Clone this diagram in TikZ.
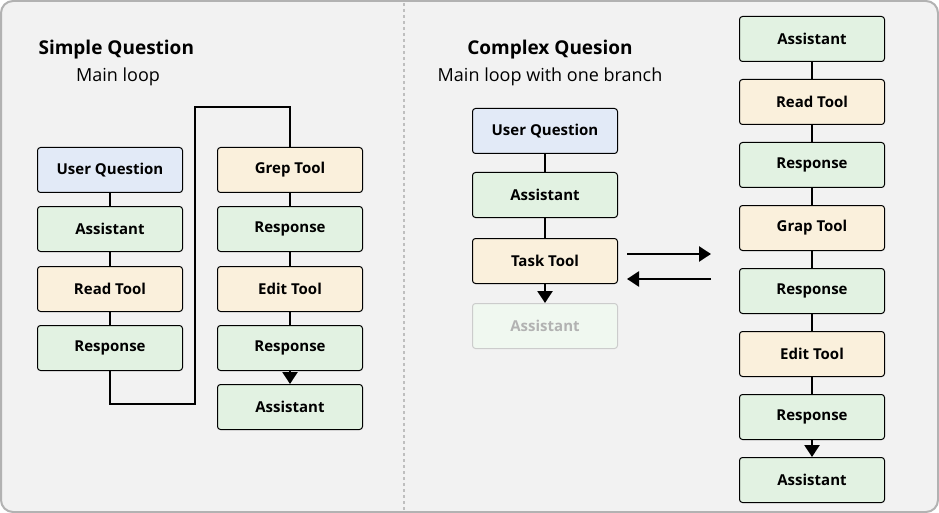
\documentclass[tikz,border=0pt]{standalone}
\usepackage{fontspec}
\setmainfont{Open Sans}
\usetikzlibrary{arrows.meta}
\definecolor{bg}{HTML}{F2F2F2}
\definecolor{bl}{HTML}{E2EAF7}
\definecolor{gr}{HTML}{E2F2E2}
\definecolor{og}{HTML}{FAF0DC}
\begin{document}
\begin{tikzpicture}[x=1pt,y=-1pt,
 box/.style={draw=black,line width=1pt,rounded corners=3pt,minimum width=145pt,minimum height=45pt,anchor=north west,font=\fontsize{15}{17}\selectfont\bfseries,inner sep=0pt},
 U/.style={box,fill=bl}, G/.style={box,fill=gr}, O/.style={box,fill=og},
 ln/.style={line width=2pt},
 ar/.style={line width=2.4pt,-{Triangle[length=12pt,width=15pt]}}]
\useasboundingbox (0,0) rectangle (939,513);
\draw[fill=bg,draw=black!30,line width=2pt,rounded corners=12pt] (1,1) rectangle (938,512);
\draw[dashed,black!25,line width=1.2pt] (404,3) -- (404,510);
\node[anchor=west,font=\fontsize{19}{22}\selectfont\bfseries] (t1) at (35,50) {Simple Question};
\node[font=\fontsize{18}{21}\selectfont] (s1) at (118,77) {Main loop};
\node[font=\fontsize{19}{22}\selectfont\bfseries] (t2) at (550,50) {Complex Quesion};
\node[font=\fontsize{18}{21}\selectfont] (s2) at (550,77) {Main loop with one branch};
% left
\node[U] (a1) at (37,147) {User Question};
\node[G] (a2) at (37,206) {Assistant};
\node[O] (a3) at (37,266) {Read Tool};
\node[G] (a4) at (37,325) {Response};
\node[O] (b1) at (217,147) {Grep Tool};
\node[G] (b2) at (217,206) {Response};
\node[O] (b3) at (217,266) {Edit Tool};
\node[G] (b4) at (217,325) {Response};
\node[G] (b5) at (217,384) {Assistant};
\foreach \p/\q in {a1/a2,a2/a3,a3/a4,b1/b2,b2/b3,b3/b4} \draw[ln] (\p.south) -- (\q.north);
\draw[ar] (b4.south) -- (b5.north);
\draw[ln] (a4.south) -- ++(0,33) -| (195,107) -| (b1.north);
% middle
\node[U] (m1) at (472,108) {User Question};
\node[G] (m2) at (472,172) {Assistant};
\node[O] (m3) at (472,238) {Task Tool};
\node[box,draw=black!20,fill=gr!50,text=black!30] (m4) at (472,303) {Assistant};
\draw[ln] (m1.south) -- (m2.north);
\draw[ln] (m2.south) -- (m3.north);
\draw[ar] (m3.south) -- (m4.north);
\coordinate (r1) at (627,254); \coordinate (r2) at (711,254);
\coordinate (l1) at (711,279); \coordinate (l2) at (627,279);
\draw[ar] (r1) -- (r2);
\draw[ar] (l1) -- (l2);
% right
\node[G] (c1) at (739,16) {Assistant};
\node[O] (c2) at (739,79) {Read Tool};
\node[G] (c3) at (739,142) {Response};
\node[O] (c4) at (739,205) {Grap Tool};
\node[G] (c5) at (739,268) {Response};
\node[O] (c6) at (739,331) {Edit Tool};
\node[G] (c7) at (739,394) {Response};
\node[G] (c8) at (739,457) {Assistant};
\foreach \p/\q in {c1/c2,c2/c3,c3/c4,c4/c5,c5/c6,c6/c7} \draw[ln] (\p.south) -- (\q.north);
\draw[ar] (c7.south) -- (c8.north);
\end{tikzpicture}
\end{document}
